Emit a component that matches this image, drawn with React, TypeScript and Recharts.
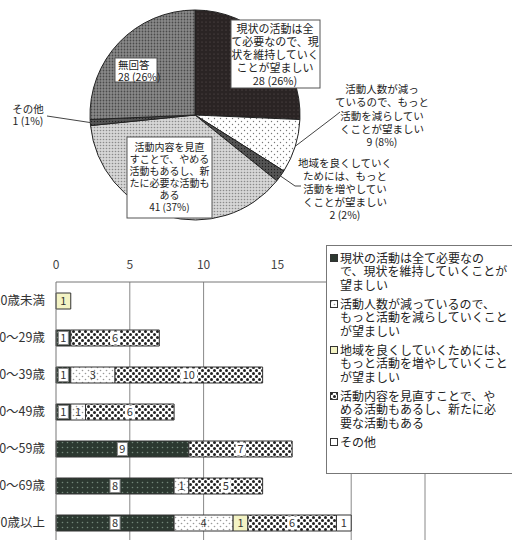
import React from "react";
import { PieChart, Pie, Cell, BarChart, Bar, XAxis, YAxis, LabelList, CartesianGrid } from "recharts";

// pie: overall answers
const pieCounts = [28, 9, 2, 41, 1, 28];
const piePercents = [26, 8, 2, 37, 1, 26];
const pieLabelLines = [
  ["現状の活動は全", "て必要なので、現", "状を維持していく", "ことが望ましい"],
  ["活動人数が減っ", "ているので、もっと", "活動を減らしてい", "くことが望ましい"],
  ["地域を良くしていく", "ためには、もっと", "活動を増やしてい", "くことが望ましい"],
  ["活動内容を見直", "すことで、やめる", "活動もあるし、新", "たに必要な活動も", "ある"],
  ["その他"],
  ["無回答"],
];

// bars: answers by age group
const ageGroups = ["20歳未満", "20～29歳", "30～39歳", "40～49歳", "50～59歳", "60～69歳", "70歳以上"];
const genjo = [0, 1, 1, 1, 9, 8, 8];
const ninzu = [0, 0, 3, 1, 0, 1, 4];
const chiiki = [1, 0, 0, 0, 0, 0, 1];
const naiyo = [0, 6, 10, 6, 7, 5, 6];
const sonota = [0, 0, 0, 0, 0, 0, 1];
const xTicks = [0, 5, 10, 15];
const gridValues = [5, 10, 20, 25];

const legendLines = [
  ["現状の活動は全て必要なの", "で、現状を維持していくことが", "望ましい"],
  ["活動人数が減っているので、", "もっと活動を減らしていくこと", "が望ましい"],
  ["地域を良くしていくためには、", "もっと活動を増やしていくこと", "が望ましい"],
  ["活動内容を見直すことで、や", "める活動もあるし、新たに必", "要な活動もある"],
  ["その他"],
];

const pieData = pieCounts.map((count, i) => ({ name: pieLabelLines[i].join(""), count }));
const barData = ageGroups.map((age, i) => ({
  age,
  genjo: genjo[i],
  ninzu: ninzu[i],
  chiiki: chiiki[i],
  naiyo: naiyo[i],
  sonota: sonota[i],
}));

const pieFills = ["url(#pie-genjo)", "url(#pie-ninzu)", "url(#pie-chiiki)", "url(#pie-naiyo)", "url(#pie-sonota)", "url(#pie-mukaito)"];
const barFills = ["url(#bar-genjo)", "url(#bar-ninzu)", "#f3f3c4", "url(#bar-naiyo)", "#ffffff"];

// label placement relative to pie centre
const pieLabelLayout: any[] = [
  { box: [36, -95, 89, 68], tx: 80, ty: -86, step: 13, size: 11 },
  { tx: 187, ty: -26, step: 13.3, size: 10.5, lead: [[140, 1], [145, -3]] },
  { tx: 150, ty: 48, step: 13, size: 10.5, lead: [[100, 71], [106, 71]] },
  { box: [-68, 22, 85, 81], tx: -25.5, ty: 32, step: 12, size: 10 },
  { tx: -167, ty: -6, step: 12, size: 10.5, lead: [[-148, 1]] },
  { box: [-80, -57, 42, 24], tx: -77, ty: -50, step: 12, size: 10.5, anchor: "start" },
];

const RAD = Math.PI / 180;

const renderPieLabel = (props: any) => {
  const { cx, cy, midAngle, outerRadius, index } = props;
  const lay = pieLabelLayout[index];
  const lines = [...pieLabelLines[index], `${pieCounts[index]} (${piePercents[index]}%)`];
  const ex = cx + outerRadius * Math.cos(-midAngle * RAD);
  const ey = cy + outerRadius * Math.sin(-midAngle * RAD);
  return (
    <g key={`pl-${index}`}>
      {lay.lead && (
        <polyline
          points={[[ex, ey], ...lay.lead.map(([dx, dy]: number[]) => [cx + dx, cy + dy])].map((p) => p.join(",")).join(" ")}
          fill="none"
          stroke="#444"
        />
      )}
      {lay.box && (
        <rect x={cx + lay.box[0]} y={cy + lay.box[1]} width={lay.box[2]} height={lay.box[3]} fill="#fff" stroke="#555" />
      )}
      <text fontSize={lay.size} fill="#222" textAnchor={lay.anchor || "middle"}>
        {lines.map((l, i) => (
          <tspan key={i} x={cx + lay.tx} y={cy + lay.ty + i * lay.step + lay.size * 0.38}>
            {l}
          </tspan>
        ))}
      </text>
    </g>
  );
};

const makeBarLabel = (fill: string, stroke: string) => (props: any) => {
  const { x, y, width, height, value } = props;
  if (!value) return null;
  const cx = Number(x) + Number(width) / 2;
  const cy = Number(y) + Number(height) / 2;
  const w = String(value).length * 7 + 3;
  return (
    <g>
      {fill !== "none" && <rect x={cx - w / 2} y={cy - 6.5} width={w} height={13} fill={fill} stroke={stroke} />}
      <text x={cx} y={cy + 4} textAnchor="middle" fontSize={11} fill="#333">
        {value}
      </text>
    </g>
  );
};

const seriesKeys = ["genjo", "ninzu", "chiiki", "naiyo", "sonota"];
const labelStyles: [string, string][] = [
  ["#fff", "#888"],
  ["none", "none"],
  ["none", "none"],
  ["#fff", "none"],
  ["none", "none"],
];

const legendIcons = ["#2c3830", "url(#bar-ninzu)", "#f3f3c4", "url(#bar-naiyo)", "#ffffff"];

export default function App() {
  return (
    <div
      style={{
        position: "relative",
        width: 512,
        height: 540,
        overflow: "hidden",
        background: "#fff",
        fontFamily: '"Noto Sans CJK JP", "Noto Sans", sans-serif',
      }}
    >
      <style>{`body{margin:0}`}</style>

      <div style={{ position: "absolute", left: 0, top: 0 }}>
        <BarChart
          width={512}
          height={541}
          data={barData}
          layout="vertical"
          margin={{ top: 262, right: 87, bottom: 0, left: 0 }}
          barSize={16}
        >
          <defs>
            <pattern id="bar-genjo" width="5" height="5" patternUnits="userSpaceOnUse">
              <rect width="5" height="5" fill="#2c3830" />
              <circle cx="2.5" cy="2.5" r="0.8" fill="#718577" />
            </pattern>
            <pattern id="bar-ninzu" width="6" height="6" patternUnits="userSpaceOnUse">
              <rect width="6" height="6" fill="#fff" />
              <circle cx="1.5" cy="1.5" r="0.8" fill="#999" />
              <circle cx="4.5" cy="4.5" r="0.8" fill="#999" />
            </pattern>
            <pattern id="bar-naiyo" width="6" height="6" patternUnits="userSpaceOnUse">
              <rect width="6" height="6" fill="#fff" />
              <circle cx="1.5" cy="1.5" r="1.5" fill="#222" />
              <circle cx="4.5" cy="4.5" r="1.5" fill="#222" />
            </pattern>
          </defs>
          <CartesianGrid horizontal={false} verticalValues={gridValues} stroke="#888" />
          <XAxis
            type="number"
            orientation="top"
            domain={[0, 25]}
            ticks={xTicks}
            height={20}
            axisLine={{ stroke: "#777" }}
            tickLine={false}
            tickSize={0}
            tickMargin={13}
            tick={{ fill: "#444", fontSize: 12 }}
          />
          <YAxis
            type="category"
            dataKey="age"
            width={56}
            axisLine={{ stroke: "#777" }}
            tickLine={false}
            tickSize={0}
            tickMargin={11}
            tick={{ fill: "#333", fontSize: 12.5 }}
          />
          {seriesKeys.map((k, i) => (
            <Bar key={k} dataKey={k} stackId="a" fill={barFills[i]} stroke="#333" strokeWidth={1} isAnimationActive={false}>
              <LabelList dataKey={k} content={makeBarLabel(labelStyles[i][0], labelStyles[i][1])} />
            </Bar>
          ))}
        </BarChart>
      </div>

      <div style={{ position: "absolute", left: 0, top: 0 }}>
        <PieChart width={512} height={230}>
          <defs>
            <pattern id="pie-genjo" width="4" height="4" patternUnits="userSpaceOnUse">
              <rect width="4" height="4" fill="#2a2424" />
              <circle cx="2" cy="2" r="0.6" fill="#5e5454" />
            </pattern>
            <pattern id="pie-ninzu" width="6" height="6" patternUnits="userSpaceOnUse">
              <rect width="6" height="6" fill="#fff" />
              <circle cx="1.5" cy="1.5" r="0.7" fill="#777" />
              <circle cx="4.5" cy="4.5" r="0.7" fill="#777" />
            </pattern>
            <pattern id="pie-chiiki" width="3" height="3" patternUnits="userSpaceOnUse">
              <rect width="3" height="3" fill="#555" />
              <circle cx="1.5" cy="1.5" r="0.7" fill="#222" />
            </pattern>
            <pattern id="pie-naiyo" width="3" height="3" patternUnits="userSpaceOnUse">
              <rect width="3" height="3" fill="#d6d6d6" />
              <circle cx="1.5" cy="1.5" r="0.8" fill="#8a8a8a" />
            </pattern>
            <pattern id="pie-sonota" width="3" height="3" patternUnits="userSpaceOnUse">
              <rect width="3" height="3" fill="#555" />
              <circle cx="1.5" cy="1.5" r="0.7" fill="#222" />
            </pattern>
            <pattern id="pie-mukaito" width="3" height="3" patternUnits="userSpaceOnUse">
              <rect width="3" height="3" fill="#8a8a8a" />
              <circle cx="1.5" cy="1.5" r="0.9" fill="#4a4a4a" />
            </pattern>
          </defs>
          <Pie
            data={pieData}
            dataKey="count"
            cx={190}
            cy={110}
            outerRadius={105}
            startAngle={90}
            endAngle={-270}
            stroke="#222"
            strokeWidth={1}
            label={renderPieLabel}
            labelLine={false}
            isAnimationActive={false}
          >
            {pieData.map((d, i) => (
              <Cell key={d.name} fill={pieFills[i]} />
            ))}
          </Pie>
        </PieChart>
      </div>

      <div
        style={{
          position: "absolute",
          left: 326,
          top: 245,
          width: 200,
          height: 229,
          boxSizing: "border-box",
          border: "1px solid #777",
          background: "#fff",
          padding: "5px 0 0 3px",
          fontSize: 12,
          lineHeight: "13.4px",
          color: "#222",
          whiteSpace: "nowrap",
        }}
      >
        {legendLines.map((lines, i) => (
          <div key={i} style={{ display: "flex", marginBottom: 5.8 }}>
            <svg width={8} height={8} style={{ flex: "none", marginTop: 3, marginRight: 2 }}>
              <rect x={0.5} y={0.5} width={7} height={7} fill={legendIcons[i]} stroke="#333" />
            </svg>
            <div>
              {lines.map((l, j) => (
                <div key={j}>{l}</div>
              ))}
            </div>
          </div>
        ))}
      </div>
    </div>
  );
}
